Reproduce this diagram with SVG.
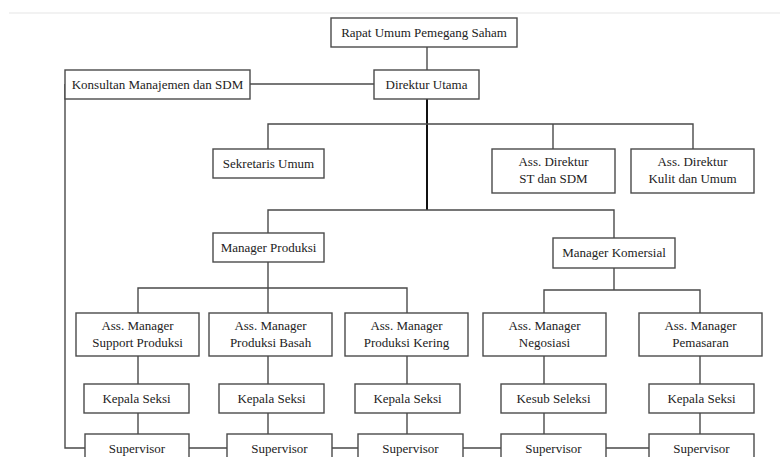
<svg xmlns="http://www.w3.org/2000/svg" width="782" height="457" viewBox="0 0 782 457">
<style>
.b{fill:#fff;stroke:#4a4a4a;stroke-width:1.4}
.t{font-size:13px;fill:#222;text-anchor:middle}
.c{fill:none;stroke:#4a4a4a;stroke-width:1.4}
.k{fill:none;stroke:#111;stroke-width:2}
</style>
<rect width="782" height="457" fill="#fff"/>
<line x1="9" y1="13" x2="780" y2="13" stroke="#e6e6e6" stroke-width="1.2"/>
<g id="connectors">
<path class="c" d="M427 47V70"/>
<path class="c" d="M250 84H374"/>
<path class="k" d="M427 99V210"/>
<path class="c" d="M268 149V124H693V149M553 124V149"/>
<path class="c" d="M268 233V210H614V238"/>
<path class="c" d="M268 262V288M138 313V288H407V313M268 288V313"/>
<path class="c" d="M614 268V290M544 313V290H700V313"/>
<path class="c" d="M138 356V384M268 356V384M407 356V384M544 356V384M700 356V384"/>
<path class="c" d="M138 413V434M268 413V434M407 413V434M544 413V434M700 413V434"/>
<path class="c" d="M65 84V448H85M189 448H227M332 448H358M463 448H501M606 448H649"/>
</g>
<g font-family="'Liberation Serif', Tinos, 'Times New Roman', 'DejaVu Serif', serif">
<g id="rups"><rect class="b" x="331" y="18" width="186" height="29"/><text class="t" x="424" y="37">Rapat Umum Pemegang Saham</text></g>
<g id="dirut"><rect class="b" x="374" y="70" width="105" height="29"/><text class="t" x="426.5" y="89">Direktur Utama</text></g>
<g id="konsultan"><rect class="b" x="65" y="70" width="185" height="29"/><text class="t" x="157.5" y="89">Konsultan Manajemen dan SDM</text></g>
<g id="sekretaris"><rect class="b" x="213" y="149" width="111" height="29"/><text class="t" x="268.5" y="168">Sekretaris Umum</text></g>
<g id="assdir-st"><rect class="b" x="492" y="149" width="123" height="44"/><text class="t" x="553.5" y="166">Ass. Direktur</text><text class="t" x="553.5" y="183">ST dan SDM</text></g>
<g id="assdir-kulit"><rect class="b" x="631" y="149" width="123" height="44"/><text class="t" x="692.5" y="166">Ass. Direktur</text><text class="t" x="692.5" y="183">Kulit dan Umum</text></g>
<g id="mgr-produksi"><rect class="b" x="213" y="233" width="111" height="29"/><text class="t" x="268.5" y="252">Manager Produksi</text></g>
<g id="mgr-komersial"><rect class="b" x="553" y="238" width="122" height="30"/><text class="t" x="614" y="257">Manager Komersial</text></g>
<g id="am-support"><rect class="b" x="76" y="313" width="123" height="43"/><text class="t" x="137.5" y="330">Ass. Manager</text><text class="t" x="137.5" y="347">Support Produksi</text></g>
<g id="am-basah"><rect class="b" x="209" y="313" width="123" height="43"/><text class="t" x="270.5" y="330">Ass. Manager</text><text class="t" x="270.5" y="347">Produksi Basah</text></g>
<g id="am-kering"><rect class="b" x="345" y="313" width="123" height="43"/><text class="t" x="406.5" y="330">Ass. Manager</text><text class="t" x="406.5" y="347">Produksi Kering</text></g>
<g id="am-negosiasi"><rect class="b" x="483" y="313" width="123" height="43"/><text class="t" x="544.5" y="330">Ass. Manager</text><text class="t" x="544.5" y="347">Negosiasi</text></g>
<g id="am-pemasaran"><rect class="b" x="639" y="313" width="123" height="43"/><text class="t" x="700.5" y="330">Ass. Manager</text><text class="t" x="700.5" y="347">Pemasaran</text></g>
<g id="ks-1"><rect class="b" x="84" y="384" width="105" height="29"/><text class="t" x="136.5" y="403">Kepala Seksi</text></g>
<g id="ks-2"><rect class="b" x="219" y="384" width="105" height="29"/><text class="t" x="271.5" y="403">Kepala Seksi</text></g>
<g id="ks-3"><rect class="b" x="355" y="384" width="105" height="29"/><text class="t" x="407.5" y="403">Kepala Seksi</text></g>
<g id="ks-4"><rect class="b" x="501" y="384" width="105" height="29"/><text class="t" x="553.5" y="403">Kesub Seleksi</text></g>
<g id="ks-5"><rect class="b" x="649" y="384" width="105" height="29"/><text class="t" x="701.5" y="403">Kepala Seksi</text></g>
<g id="sv-1"><rect class="b" x="85" y="434" width="104" height="35"/><text class="t" x="137" y="453">Supervisor</text></g>
<g id="sv-2"><rect class="b" x="227" y="434" width="105" height="35"/><text class="t" x="279.5" y="453">Supervisor</text></g>
<g id="sv-3"><rect class="b" x="358" y="434" width="105" height="35"/><text class="t" x="410.5" y="453">Supervisor</text></g>
<g id="sv-4"><rect class="b" x="501" y="434" width="105" height="35"/><text class="t" x="553.5" y="453">Supervisor</text></g>
<g id="sv-5"><rect class="b" x="649" y="434" width="105" height="35"/><text class="t" x="701.5" y="453">Supervisor</text></g>
</g>
</svg>
